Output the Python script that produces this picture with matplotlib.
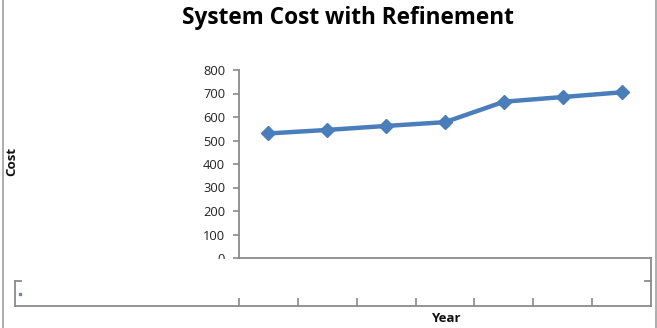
import matplotlib
matplotlib.use("Agg")
import matplotlib.pyplot as plt
from matplotlib.lines import Line2D
from matplotlib.patches import Rectangle

# ---- data ----
categories = ["1", "2", "3", "4", "5", "6", "7"]
cost = [530, 545, 562, 578, 665, 685, 705]
yticks = [0, 100, 200, 300, 400, 500, 600, 700, 800]
title = "System Cost with Refinement"
xlabel = "Year"
ylabel = "Cost"

W, H = 657, 328
fig = plt.figure(figsize=(W / 100, H / 100), dpi=100)
plt.rcParams['font.family'] = ['Open Sans', 'DejaVu Sans']

gray = "#8a8a8a"
blue = "#4a7ebb"

def fx(px):
    return px / W

def fy(py):
    return (H - py) / H

# main plot axes
mx0, mx1, my0, my1 = 239, 651, 258, 70
ax = fig.add_axes([fx(mx0), fy(my0), fx(mx1) - fx(mx0), fy(my1) - fy(my0)])
xs = list(range(len(categories)))
ax.plot(xs, cost, color=blue, lw=3.2, marker="D", ms=7.5, mfc=blue, mec=blue,
        solid_capstyle="round", zorder=3)
ax.set_xlim(-0.5, len(categories) - 0.5)
ax.set_ylim(0, 800)
ax.set_yticks(yticks)
ax.set_yticklabels([str(v) for v in yticks], fontsize=9.3, color="#222222")
ax.set_xticks([])
for s in ["top", "right"]:
    ax.spines[s].set_visible(False)
for s in ["left", "bottom"]:
    ax.spines[s].set_color(gray)
    ax.spines[s].set_linewidth(1.3)
ax.tick_params(axis="y", direction="out", length=4, width=1.2, color=gray, pad=6)

# cover lower half of the "0" label (clipped in reference)
fig.add_artist(Rectangle((fx(180), fy(300)), fx(237) - fx(180), fy(259) - fy(300),
                         transform=fig.transFigure, facecolor="white",
                         edgecolor="none", zorder=10))

# lower category box
lx0, lx1, ly0, ly1 = 15, 651, 306, 281
lax = fig.add_axes([fx(lx0), fy(ly0), fx(lx1) - fx(lx0), fy(ly1) - fy(ly0)])
unit = (mx1 - mx0) / len(categories)
left_val = -0.5 - (mx0 - lx0) / unit
right_val = len(categories) - 0.5 + (lx1 - mx1) / unit
lax.set_xlim(left_val, right_val)
lax.set_ylim(0, 1)
lax.set_xticks([i - 0.5 for i in range(len(categories))])
lax.set_xticklabels([])
lax.set_yticks([])
lax.tick_params(axis="x", direction="in", length=6, width=1.2, color=gray)
lax.spines["top"].set_visible(False)
for s in ["left", "bottom", "right"]:
    lax.spines[s].set_color(gray)
    lax.spines[s].set_linewidth(1.3)
lax.patch.set_alpha(0)
# small stubs at top corners
lax.plot([0, 0.01], [1, 1], color=gray, lw=1.3, transform=lax.transAxes, clip_on=False)
lax.plot([0.99, 1], [1, 1], color=gray, lw=1.3, transform=lax.transAxes, clip_on=False)
lax.plot([0.008], [0.5], marker="s", ms=2, color="#6a8aa0", transform=lax.transAxes)

# right connector between axes
fig.add_artist(Line2D([fx(651), fx(651)], [fy(258), fy(281)], color=gray, lw=1.3,
                      transform=fig.transFigure))

# figure side borders
fig.add_artist(Line2D([fx(2.5), fx(2.5)], [0, 1], color="#a0a0a0", lw=1.2,
                      transform=fig.transFigure))
fig.add_artist(Line2D([fx(656), fx(656)], [0, 1], color="#a0a0a0", lw=1.2,
                      transform=fig.transFigure))

# texts
fig.text(fx(348), fy(18), title, ha="center", va="center", fontsize=16.3,
         fontweight="bold", color="black")
fig.text(fx(446), fy(318), xlabel, ha="center", va="center", fontsize=9.5,
         fontweight="bold", color="#111111")
fig.text(fx(12), fy(161), ylabel, ha="center", va="center", fontsize=9.5,
         fontweight="bold", rotation=90, color="#111111")

fig.savefig("out.png", dpi=100)
